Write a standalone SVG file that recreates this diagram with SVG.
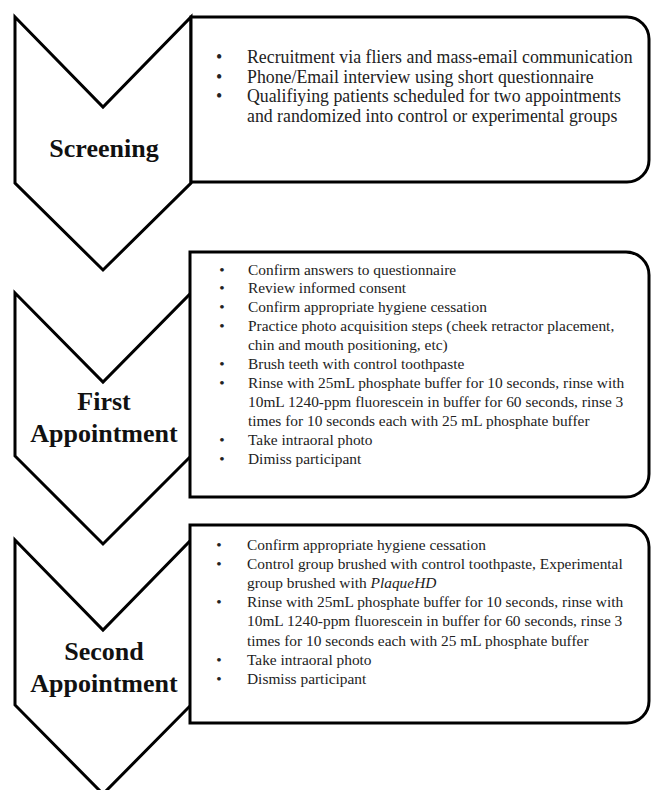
<svg xmlns="http://www.w3.org/2000/svg" width="651" height="790" viewBox="0 0 651 790">
<style>
.chev{fill:#fff;stroke:#000;stroke-width:3;stroke-linejoin:miter}
.box{fill:#fff;stroke:#000;stroke-width:3}
.lbl{font-family:"Liberation Serif","DejaVu Serif",serif;font-weight:bold;font-size:26px;fill:#111;text-anchor:middle}
.t1{font-family:"Liberation Serif","DejaVu Serif",serif;font-size:17.8px;fill:#222}
.t2{font-family:"Liberation Serif","DejaVu Serif",serif;font-size:15.4px;fill:#222}
.b{text-anchor:middle}
</style>
<rect width="651" height="790" fill="#fff"/>
<g id="screening">
<path class="chev" d="M15,17 L103,107 L191,17 L191,183 L103,270 L15,183 Z"/>
<text class="lbl" x="104" y="157">Screening</text>
</g>
<g id="first">
<path class="chev" d="M15,293 L103,382 L191,293 L191,456 L103,544 L15,456 Z"/>
<text class="lbl" x="104" y="410">First</text>
<text class="lbl" x="104" y="442">Appointment</text>
</g>
<g id="second">
<path class="chev" d="M15,540 L103,630 L191,540 L191,705 L103,794 L15,705 Z"/>
<text class="lbl" x="104" y="660">Second</text>
<text class="lbl" x="104" y="692">Appointment</text>
</g>
<g id="box-screening">
<path class="box" d="M191,17 H627 A22,22 0 0 1 649,39 V160 A22,22 0 0 1 627,182 H191 Z"/>
<g class="t1">
<text class="b" x="219" y="63">•</text>
<text class="b" x="219" y="82.5">•</text>
<text class="b" x="219" y="102">•</text>
<text x="247" y="63">Recruitment via fliers and mass-email communication</text>
<text x="247" y="82.5">Phone/Email interview using short questionnaire</text>
<text x="247" y="102">Qualifiying patients scheduled for two appointments</text>
<text x="247" y="121.5">and randomized into control or experimental groups</text>
</g>
</g>
<g id="box-first">
<path class="box" d="M190,252 H626 A23,23 0 0 1 649,275 V474 A23,23 0 0 1 626,497 H190 Z"/>
<g class="t2">
<text class="b" x="222" y="274.5">•</text>
<text class="b" x="222" y="293.4">•</text>
<text class="b" x="222" y="312.3">•</text>
<text class="b" x="222" y="331.2">•</text>
<text class="b" x="222" y="369">•</text>
<text class="b" x="222" y="387.9">•</text>
<text class="b" x="222" y="444.6">•</text>
<text class="b" x="222" y="463.5">•</text>
<text x="248" y="274.5">Confirm answers to questionnaire</text>
<text x="248" y="293.4">Review informed consent</text>
<text x="248" y="312.3">Confirm appropriate hygiene cessation</text>
<text x="248" y="331.2">Practice photo acquisition steps (cheek retractor placement,</text>
<text x="248" y="350.1">chin and mouth positioning, etc)</text>
<text x="248" y="369">Brush teeth with control toothpaste</text>
<text x="248" y="387.9">Rinse with 25mL phosphate buffer for 10 seconds, rinse with</text>
<text x="248" y="406.8">10mL 1240-ppm fluorescein in buffer for 60 seconds, rinse 3</text>
<text x="248" y="425.7">times for 10 seconds each with 25 mL phosphate buffer</text>
<text x="248" y="444.6">Take intraoral photo</text>
<text x="248" y="463.5">Dimiss participant</text>
</g>
</g>
<g id="box-second">
<path class="box" d="M190,525 H627 A22,22 0 0 1 649,547 V701 A22,22 0 0 1 627,723 H190 Z"/>
<g class="t2">
<text class="b" x="219" y="550">•</text>
<text class="b" x="219" y="569.1">•</text>
<text class="b" x="219" y="607.3">•</text>
<text class="b" x="219" y="664.6">•</text>
<text class="b" x="219" y="683.7">•</text>
<text x="247" y="550">Confirm appropriate hygiene cessation</text>
<text x="247" y="569.1">Control group brushed with control toothpaste, Experimental</text>
<text x="247" y="588.2">group brushed with <tspan font-style="italic">PlaqueHD</tspan></text>
<text x="247" y="607.3">Rinse with 25mL phosphate buffer for 10 seconds, rinse with</text>
<text x="247" y="626.4">10mL 1240-ppm fluorescein in buffer for 60 seconds, rinse 3</text>
<text x="247" y="645.5">times for 10 seconds each with 25 mL phosphate buffer</text>
<text x="247" y="664.6">Take intraoral photo</text>
<text x="247" y="683.7">Dismiss participant</text>
</g>
</g>
</svg>
